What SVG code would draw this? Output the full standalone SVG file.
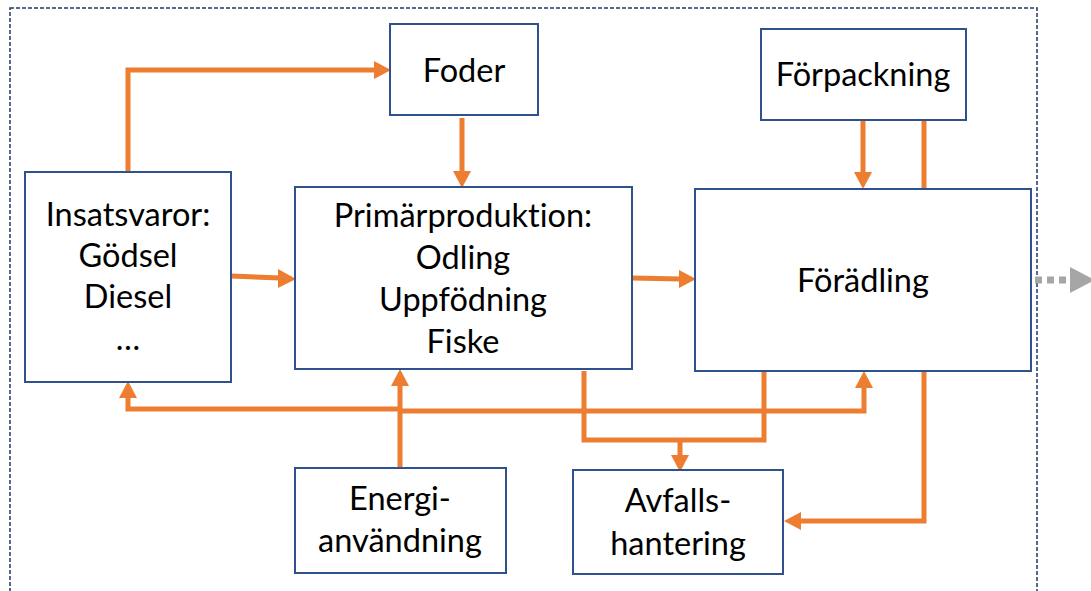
<svg xmlns="http://www.w3.org/2000/svg" width="1091" height="591" viewBox="0 0 1091 591">
<defs>
<style>
.box{fill:#fff;stroke:#2F528F;stroke-width:2}
.t{font-family:Lato,"Open Sans","Liberation Sans",sans-serif;font-size:32.5px;fill:#000;text-anchor:middle;font-variant-ligatures:none}
.c{fill:none;stroke:#ED7D31;stroke-width:5}
.h{fill:#ED7D31}
</style>
</defs>
<rect x="0" y="0" width="1091" height="591" fill="#fff"/>
<rect id="frame" x="10" y="8" width="1027" height="600" fill="none" stroke="#1F3864" stroke-width="1.5" stroke-dasharray="4 2"/>
<g id="connectors">
<polyline class="c" points="128,172 128,70 376,70"/>
<polygon class="h" points="374,61 391,70 374,79"/>
<line class="c" x1="462" y1="118" x2="462" y2="173"/>
<polygon class="h" points="453,171 462,188 471,171"/>
<line class="c" x1="231" y1="276" x2="280" y2="278"/>
<polygon class="h" points="278,269 296,279 278,288"/>
<line class="c" x1="632" y1="278" x2="681" y2="279"/>
<polygon class="h" points="679,270 696,279 679,288"/>
<line class="c" x1="863" y1="120" x2="863" y2="174"/>
<polygon class="h" points="854,172 863,189 872,172"/>
<line class="c" x1="924" y1="120" x2="924" y2="189"/>
<polyline class="c" points="128,397 128,409 400,409"/>
<polygon class="h" points="119,398 128,381 137,398"/>
<polyline class="c" points="400,411 864,411 864,385"/>
<polygon class="h" points="855,388 864,371 873,388"/>
<line class="c" x1="400" y1="468" x2="400" y2="383"/>
<polygon class="h" points="391,386 400,369 409,386"/>
<polyline class="c" points="584,371 584,440 764,440 764,371"/>
<line class="c" x1="680" y1="440" x2="680" y2="457"/>
<polygon class="h" points="671,455 680,472 689,455"/>
<polyline class="c" points="924,371 924,521 799,521"/>
<polygon class="h" points="801,512 784,521 801,530"/>
<line x1="1035" y1="280" x2="1072" y2="280" stroke="#A6A6A6" stroke-width="7" stroke-dasharray="7 5"/>
<polygon points="1070,267 1095,280 1070,293" fill="#A6A6A6"/>
</g>
<g id="foder"><rect class="box" x="390" y="24" width="148" height="91"/><text class="t" x="464" y="82">Foder</text></g>
<g id="forpackning"><rect class="box" x="761" y="29" width="205" height="91"/><text class="t" x="863" y="86">Förpackning</text></g>
<g id="insatsvaror"><rect class="box" x="25" y="172" width="206" height="210"/>
<text class="t" x="128" y="226">Insatsvaror:</text><text class="t" x="128" y="267">Gödsel</text><text class="t" x="128" y="308">Diesel</text><text class="t" x="128" y="350">…</text></g>
<g id="primar"><rect class="box" x="295" y="187" width="337" height="182"/>
<text class="t" x="463" y="227">Primärproduktion:</text><text class="t" x="463" y="269">Odling</text><text class="t" x="463" y="311">Uppfödning</text><text class="t" x="463" y="353">Fiske</text></g>
<g id="foradling"><rect class="box" x="695" y="189" width="336" height="182"/><text class="t" x="863" y="292">Förädling</text></g>
<g id="energi"><rect class="box" x="295" y="468" width="211" height="105"/><text class="t" x="400" y="510">Energi-</text><text class="t" x="400" y="552">användning</text></g>
<g id="avfall"><rect class="box" x="573" y="470" width="210" height="104"/><text class="t" x="678" y="512">Avfalls-</text><text class="t" x="678" y="555">hantering</text></g>
</svg>
